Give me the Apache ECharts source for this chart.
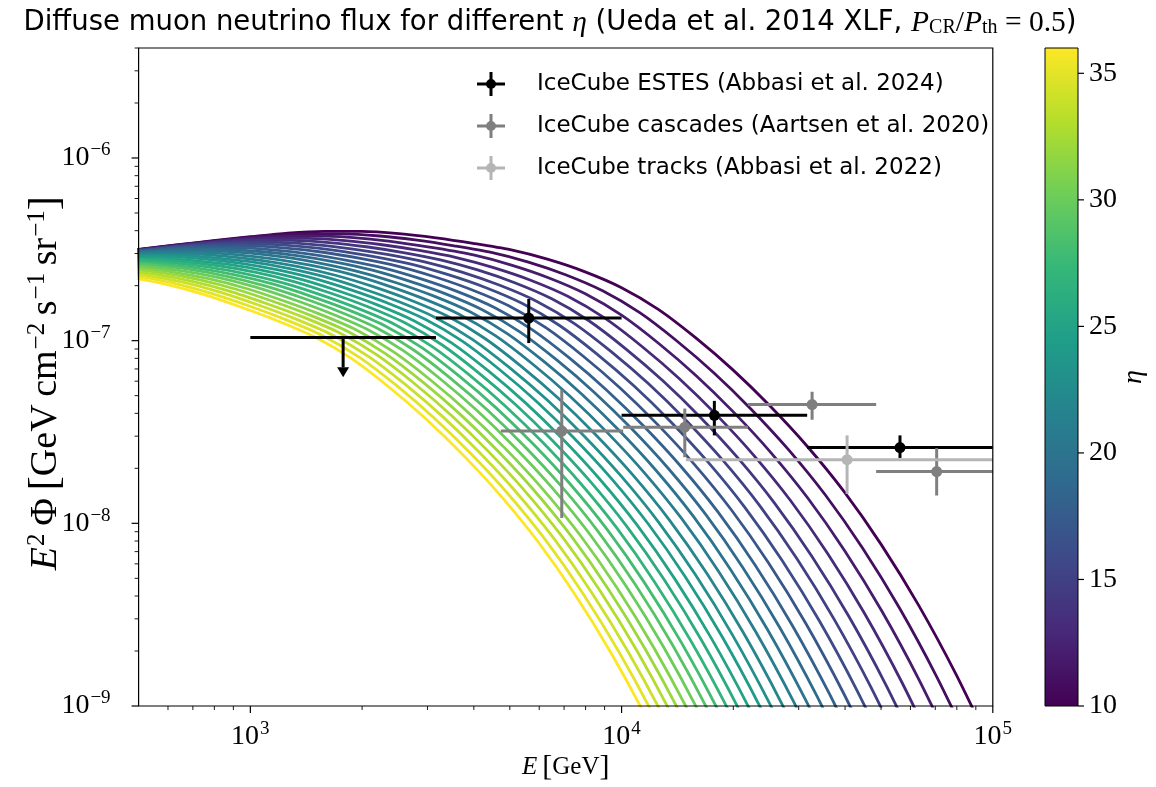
<!DOCTYPE html>
<html>
<head>
<meta charset="utf-8">
<script src="https://cdn.jsdelivr.net/npm/echarts@6/dist/echarts.min.js"></script>
<style>
  html, body { margin: 0; padding: 0; background: #ffffff; }
  #chart { width: 1156px; height: 787px; }
</style>
</head>
<body>
<div id="chart"></div>
<script>
// ---------------------------------------------------------------------------
// Model curves: diffuse muon-neutrino flux for eta = 10 ... 36.
// Each row holds log10(E / GeV) and log10(E^2 Phi / GeV cm^-2 s^-1 sr^-1).
// ---------------------------------------------------------------------------
const etaValues = [10, 11, 12, 13, 14, 15, 16, 17, 18, 19, 20, 21, 22, 23, 24, 25, 26, 27, 28, 29, 30, 31, 32, 33, 34, 35, 36];

const curveLogE = [
  [2.699, 2.8, 2.9, 3.0, 3.1, 3.2, 3.3, 3.4, 3.5, 3.6, 3.7, 3.8, 3.9, 4.0, 4.1, 4.2, 4.3, 4.4, 4.5, 4.6, 4.7, 4.8, 4.9, 5.0],
  [2.649, 2.749, 2.849, 2.949, 3.049, 3.149, 3.249, 3.349, 3.449, 3.549, 3.649, 3.749, 3.849, 3.949, 4.049, 4.149, 4.249, 4.349, 4.449, 4.549, 4.649, 4.749, 4.849, 4.949],
  [2.601, 2.701, 2.801, 2.901, 3.001, 3.101, 3.201, 3.301, 3.401, 3.501, 3.601, 3.701, 3.801, 3.901, 4.001, 4.101, 4.201, 4.301, 4.401, 4.501, 4.601, 4.701, 4.801, 4.901],
  [2.655, 2.755, 2.855, 2.955, 3.055, 3.155, 3.255, 3.355, 3.455, 3.555, 3.655, 3.755, 3.855, 3.955, 4.055, 4.155, 4.255, 4.355, 4.455, 4.555, 4.655, 4.755, 4.855],
  [2.612, 2.712, 2.812, 2.912, 3.012, 3.112, 3.212, 3.312, 3.412, 3.512, 3.612, 3.712, 3.812, 3.912, 4.012, 4.112, 4.212, 4.312, 4.412, 4.512, 4.612, 4.712, 4.812],
  [2.672, 2.772, 2.872, 2.972, 3.072, 3.172, 3.272, 3.372, 3.472, 3.572, 3.672, 3.772, 3.872, 3.972, 4.072, 4.172, 4.272, 4.372, 4.472, 4.572, 4.672, 4.772],
  [2.633, 2.733, 2.833, 2.933, 3.033, 3.133, 3.233, 3.333, 3.433, 3.533, 3.633, 3.733, 3.833, 3.933, 4.033, 4.133, 4.233, 4.333, 4.433, 4.533, 4.633, 4.733],
  [2.696, 2.796, 2.896, 2.996, 3.096, 3.196, 3.296, 3.396, 3.496, 3.596, 3.696, 3.796, 3.896, 3.996, 4.096, 4.196, 4.296, 4.396, 4.496, 4.596, 4.696],
  [2.660, 2.760, 2.860, 2.960, 3.060, 3.160, 3.260, 3.360, 3.460, 3.560, 3.660, 3.760, 3.860, 3.960, 4.060, 4.160, 4.260, 4.360, 4.460, 4.560, 4.660],
  [2.626, 2.726, 2.826, 2.926, 3.026, 3.126, 3.226, 3.326, 3.426, 3.526, 3.626, 3.726, 3.826, 3.926, 4.026, 4.126, 4.226, 4.326, 4.426, 4.526, 4.626],
  [2.693, 2.793, 2.893, 2.993, 3.093, 3.193, 3.293, 3.393, 3.493, 3.593, 3.693, 3.793, 3.893, 3.993, 4.093, 4.193, 4.293, 4.393, 4.493, 4.593],
  [2.661, 2.761, 2.861, 2.961, 3.061, 3.161, 3.261, 3.361, 3.461, 3.561, 3.661, 3.761, 3.861, 3.961, 4.061, 4.161, 4.261, 4.361, 4.461, 4.561],
  [2.629, 2.729, 2.829, 2.929, 3.029, 3.129, 3.229, 3.329, 3.429, 3.529, 3.629, 3.729, 3.829, 3.929, 4.029, 4.129, 4.229, 4.329, 4.429, 4.529],
  [2.699, 2.799, 2.899, 2.999, 3.099, 3.199, 3.299, 3.399, 3.499, 3.599, 3.699, 3.799, 3.899, 3.999, 4.099, 4.199, 4.299, 4.399, 4.499],
  [2.671, 2.771, 2.871, 2.971, 3.071, 3.171, 3.271, 3.371, 3.471, 3.571, 3.671, 3.771, 3.871, 3.971, 4.071, 4.171, 4.271, 4.371, 4.471],
  [2.642, 2.742, 2.842, 2.942, 3.042, 3.142, 3.242, 3.342, 3.442, 3.542, 3.642, 3.742, 3.842, 3.942, 4.042, 4.142, 4.242, 4.342, 4.442],
  [2.615, 2.715, 2.815, 2.915, 3.015, 3.115, 3.215, 3.315, 3.415, 3.515, 3.615, 3.715, 3.815, 3.915, 4.015, 4.115, 4.215, 4.315, 4.415],
  [2.688, 2.788, 2.888, 2.988, 3.088, 3.188, 3.288, 3.388, 3.488, 3.588, 3.688, 3.788, 3.888, 3.988, 4.088, 4.188, 4.288, 4.388],
  [2.662, 2.762, 2.862, 2.962, 3.062, 3.162, 3.262, 3.362, 3.462, 3.562, 3.662, 3.762, 3.862, 3.962, 4.062, 4.162, 4.262, 4.362],
  [2.637, 2.737, 2.837, 2.937, 3.037, 3.137, 3.237, 3.337, 3.437, 3.537, 3.637, 3.737, 3.837, 3.937, 4.037, 4.137, 4.237, 4.337],
  [2.612, 2.712, 2.812, 2.912, 3.012, 3.112, 3.212, 3.312, 3.412, 3.512, 3.612, 3.712, 3.812, 3.912, 4.012, 4.112, 4.212, 4.312],
  [2.687, 2.787, 2.887, 2.987, 3.087, 3.187, 3.287, 3.387, 3.487, 3.587, 3.687, 3.787, 3.887, 3.987, 4.087, 4.187, 4.287],
  [2.664, 2.764, 2.864, 2.964, 3.064, 3.164, 3.264, 3.364, 3.464, 3.564, 3.664, 3.764, 3.864, 3.964, 4.064, 4.164, 4.264],
  [2.641, 2.741, 2.841, 2.941, 3.041, 3.141, 3.241, 3.341, 3.441, 3.541, 3.641, 3.741, 3.841, 3.941, 4.041, 4.141, 4.241],
  [2.618, 2.718, 2.818, 2.918, 3.018, 3.118, 3.218, 3.318, 3.418, 3.518, 3.618, 3.718, 3.818, 3.918, 4.018, 4.118, 4.218],
  [2.695, 2.795, 2.895, 2.995, 3.095, 3.195, 3.295, 3.395, 3.495, 3.595, 3.695, 3.795, 3.895, 3.995, 4.095, 4.195],
  [2.674, 2.774, 2.874, 2.974, 3.074, 3.174, 3.274, 3.374, 3.474, 3.574, 3.674, 3.774, 3.874, 3.974, 4.074, 4.174]
];

const curveLogF = [
  [-6.500, -6.476, -6.453, -6.431, -6.411, -6.402, -6.402, -6.414, -6.437, -6.467, -6.502, -6.554, -6.622, -6.710, -6.830, -6.985, -7.160, -7.358, -7.578, -7.828, -8.118, -8.448, -8.823, -9.243],
  [-6.513, -6.489, -6.466, -6.444, -6.424, -6.415, -6.415, -6.427, -6.450, -6.481, -6.517, -6.570, -6.639, -6.727, -6.847, -7.002, -7.177, -7.375, -7.595, -7.845, -8.135, -8.465, -8.840, -9.260],
  [-6.526, -6.502, -6.479, -6.457, -6.437, -6.428, -6.428, -6.440, -6.463, -6.494, -6.531, -6.585, -6.654, -6.742, -6.862, -7.017, -7.192, -7.390, -7.610, -7.860, -8.150, -8.480, -8.855, -9.275],
  [-6.514, -6.491, -6.469, -6.449, -6.440, -6.440, -6.452, -6.475, -6.506, -6.545, -6.600, -6.669, -6.757, -6.877, -7.032, -7.207, -7.405, -7.625, -7.875, -8.165, -8.495, -8.870, -9.290],
  [-6.525, -6.502, -6.480, -6.460, -6.451, -6.451, -6.463, -6.486, -6.518, -6.558, -6.613, -6.683, -6.771, -6.891, -7.046, -7.221, -7.419, -7.639, -7.889, -8.179, -8.509, -8.884, -9.304],
  [-6.513, -6.491, -6.471, -6.462, -6.462, -6.474, -6.497, -6.529, -6.570, -6.626, -6.697, -6.785, -6.905, -7.060, -7.235, -7.433, -7.653, -7.903, -8.193, -8.523, -8.898, -9.318],
  [-6.523, -6.501, -6.481, -6.472, -6.472, -6.484, -6.507, -6.540, -6.581, -6.639, -6.709, -6.797, -6.917, -7.072, -7.247, -7.445, -7.665, -7.915, -8.205, -8.535, -8.910, -9.330],
  [-6.510, -6.490, -6.481, -6.481, -6.493, -6.516, -6.550, -6.592, -6.650, -6.721, -6.809, -6.929, -7.084, -7.259, -7.457, -7.677, -7.927, -8.217, -8.547, -8.922, -9.342],
  [-6.520, -6.500, -6.491, -6.491, -6.503, -6.526, -6.560, -6.603, -6.662, -6.733, -6.821, -6.941, -7.096, -7.271, -7.469, -7.689, -7.939, -8.229, -8.559, -8.934, -9.354],
  [-6.529, -6.509, -6.500, -6.500, -6.512, -6.535, -6.569, -6.613, -6.673, -6.744, -6.832, -6.952, -7.107, -7.282, -7.480, -7.700, -7.950, -8.240, -8.570, -8.945, -9.365],
  [-6.517, -6.508, -6.508, -6.520, -6.543, -6.578, -6.623, -6.683, -6.755, -6.843, -6.963, -7.118, -7.293, -7.491, -7.711, -7.961, -8.251, -8.581, -8.956, -9.376],
  [-6.526, -6.517, -6.517, -6.529, -6.552, -6.587, -6.632, -6.693, -6.766, -6.854, -6.974, -7.129, -7.304, -7.502, -7.722, -7.972, -8.262, -8.592, -8.967, -9.387],
  [-6.534, -6.525, -6.525, -6.537, -6.560, -6.595, -6.642, -6.703, -6.776, -6.864, -6.984, -7.139, -7.314, -7.512, -7.732, -7.982, -8.272, -8.602, -8.977, -9.397],
  [-6.533, -6.533, -6.545, -6.568, -6.603, -6.650, -6.713, -6.786, -6.874, -6.994, -7.149, -7.324, -7.522, -7.742, -7.992, -8.282, -8.612, -8.987, -9.407],
  [-6.540, -6.540, -6.552, -6.575, -6.611, -6.659, -6.722, -6.795, -6.883, -7.003, -7.158, -7.333, -7.531, -7.751, -8.001, -8.291, -8.621, -8.996, -9.416],
  [-6.548, -6.548, -6.560, -6.583, -6.619, -6.667, -6.731, -6.804, -6.892, -7.012, -7.167, -7.342, -7.540, -7.760, -8.010, -8.300, -8.630, -9.005, -9.425],
  [-6.555, -6.555, -6.567, -6.590, -6.626, -6.675, -6.739, -6.813, -6.901, -7.021, -7.176, -7.351, -7.549, -7.769, -8.019, -8.309, -8.639, -9.014, -9.434],
  [-6.562, -6.574, -6.597, -6.634, -6.684, -6.748, -6.822, -6.910, -7.030, -7.185, -7.360, -7.558, -7.778, -8.028, -8.318, -8.648, -9.023, -9.443],
  [-6.569, -6.581, -6.604, -6.641, -6.691, -6.756, -6.830, -6.918, -7.038, -7.193, -7.368, -7.566, -7.786, -8.036, -8.326, -8.656, -9.031, -9.451],
  [-6.575, -6.587, -6.610, -6.648, -6.699, -6.764, -6.839, -6.927, -7.047, -7.202, -7.377, -7.575, -7.795, -8.045, -8.335, -8.665, -9.040, -9.460],
  [-6.582, -6.594, -6.617, -6.654, -6.706, -6.772, -6.847, -6.935, -7.055, -7.210, -7.385, -7.583, -7.803, -8.053, -8.343, -8.673, -9.048, -9.468],
  [-6.600, -6.623, -6.661, -6.713, -6.780, -6.855, -6.943, -7.063, -7.218, -7.393, -7.591, -7.811, -8.061, -8.351, -8.681, -9.056, -9.476],
  [-6.606, -6.629, -6.667, -6.720, -6.787, -6.863, -6.951, -7.071, -7.226, -7.401, -7.599, -7.819, -8.069, -8.359, -8.689, -9.064, -9.484],
  [-6.613, -6.636, -6.674, -6.727, -6.795, -6.870, -6.958, -7.078, -7.233, -7.408, -7.606, -7.826, -8.076, -8.366, -8.696, -9.071, -9.491],
  [-6.619, -6.642, -6.680, -6.734, -6.802, -6.878, -6.966, -7.086, -7.241, -7.416, -7.614, -7.834, -8.084, -8.374, -8.704, -9.079, -9.499],
  [-6.647, -6.686, -6.741, -6.809, -6.885, -6.973, -7.093, -7.248, -7.423, -7.621, -7.841, -8.091, -8.381, -8.711, -9.086, -9.506],
  [-6.653, -6.692, -6.747, -6.816, -6.892, -6.980, -7.100, -7.255, -7.430, -7.628, -7.848, -8.098, -8.388, -8.718, -9.093, -9.513]
];

// ---------------------------------------------------------------------------
// IceCube measurements (E in GeV, E^2 Phi in GeV cm^-2 s^-1 sr^-1)
// ---------------------------------------------------------------------------
const estesLabel = 'IceCube ESTES (Abbasi et al. 2024)';
const estesE         = [1778, 5623, 17780, 56230];
const estesELow      = [1000, 3162, 10000, 31620];
const estesEHigh     = [3162, 10000, 31620, 177800];
const estesFlux      = [1.04e-7, 1.33e-7, 3.9e-8, 2.6e-8];
const estesFluxLow   = [6.3e-8, 9.7e-8, 3.03e-8, 2.28e-8];   // arrow tip for the upper limit
const estesFluxHigh  = [1.04e-7, 1.69e-7, 4.68e-8, 3.03e-8];
const estesUpperLim  = [1, 0, 0, 0];

const cascLabel = 'IceCube cascades (Aartsen et al. 2020)';
const cascE        = [6900, 14800, 32600, 70600];
const cascELow     = [4730, 10100, 21900, 48500];
const cascEHigh    = [10100, 21900, 48500, 150000];
const cascFlux     = [3.2e-8, 3.36e-8, 4.47e-8, 1.92e-8];
const cascFluxLow  = [1.07e-8, 2.3e-8, 3.69e-8, 1.42e-8];
const cascFluxHigh = [5.37e-8, 4.25e-8, 5.25e-8, 2.58e-8];

const trackLabel = 'IceCube tracks (Abbasi et al. 2022)';
const trackE        = [40500];
const trackELow     = [14900];
const trackEHigh    = [5000000];
const trackFlux     = [2.23e-8];
const trackFluxLow  = [1.45e-8];
const trackFluxHigh = [3.03e-8];

// Axis ranges and tick positions
const eMin = 500, eMax = 1e5;
const fMin = 1e-9, fMax = 4e-6;
const etaMin = 10, etaMax = 36;
const xMajorTicks = [1e3, 1e4, 1e5];
const xMinorTicks = [600, 700, 800, 900, 2000, 3000, 4000, 5000, 6000, 7000, 8000, 9000,
                     20000, 30000, 40000, 50000, 60000, 70000, 80000, 90000];
const yMajorTicks = [1e-9, 1e-8, 1e-7, 1e-6];
const yMinorTicks = [2e-9, 3e-9, 4e-9, 5e-9, 6e-9, 7e-9, 8e-9, 9e-9,
                     2e-8, 3e-8, 4e-8, 5e-8, 6e-8, 7e-8, 8e-8, 9e-8,
                     2e-7, 3e-7, 4e-7, 5e-7, 6e-7, 7e-7, 8e-7, 9e-7,
                     2e-6, 3e-6, 4e-6];
const colorbarTicks = [10, 15, 20, 25, 30, 35];

// ---------------------------------------------------------------------------
// Styling
// ---------------------------------------------------------------------------
const SERIF = '"Liberation Serif", "DejaVu Serif", serif';
const SANS = '"DejaVu Sans", "Liberation Sans", sans-serif';
const VIRIDIS = ['#440154', '#482878', '#3e4989', '#31688e', '#26828e',
                 '#1f9e89', '#35b779', '#6ece58', '#b5de2b', '#fde725'];
const etaColor = eta => echarts.color.lerp((eta - etaMin) / (etaMax - etaMin), VIRIDIS);
const fromLog = v => Math.pow(10, v);

const powRich = {
  b: { fontFamily: SERIF, fontSize: 28, color: '#000' },
  e: { fontFamily: SERIF, fontSize: 19, color: '#000', padding: [0, 0, 15, 1] }
};
function powerLabel(v) {
  const p = Math.round(Math.log10(v));
  return '{b|10}{e|' + (p < 0 ? '\u2212' + (-p) : p) + '}';
}

// Legend glyph: horizontal + vertical error bar with a dot (plus blank space before the text)
const ERRBAR_ICON = 'path://M0,10.5H28V13.5H0Z M12.5,0H15.5V24H12.5Z M9,12A5,5,0,1,1,19,12A5,5,0,1,1,9,12Z M55,12L55,12';

// ---------------------------------------------------------------------------
// Render helpers
// ---------------------------------------------------------------------------
function errorBarItem(params, api) {
  const cs = params.coordSys;
  const clampX = x => Math.max(cs.x, Math.min(cs.x + cs.width, x));
  const e = api.value(0), f = api.value(1);
  const c = api.coord([e, f]);
  const l = api.coord([api.value(2), f]);
  const r = api.coord([api.value(3), f]);
  const color = api.visual('color');
  const lw = 3;
  const children = [{
    type: 'line',
    shape: { x1: clampX(l[0]), y1: c[1], x2: clampX(r[0]), y2: c[1] },
    style: { stroke: color, lineWidth: lw }
  }];
  if (api.value(6) === 1) {
    const tip = api.coord([e, api.value(4)]);
    const head = 10;
    children.push({
      type: 'line',
      shape: { x1: c[0], y1: c[1], x2: c[0], y2: tip[1] - head },
      style: { stroke: color, lineWidth: lw }
    });
    children.push({
      type: 'polygon',
      shape: { points: [[c[0] - 6, tip[1] - head], [c[0] + 6, tip[1] - head], [c[0], tip[1]]] },
      style: { fill: color }
    });
  } else {
    const lo = api.coord([e, api.value(4)]);
    const hi = api.coord([e, api.value(5)]);
    children.push({
      type: 'line',
      shape: { x1: c[0], y1: lo[1], x2: c[0], y2: hi[1] },
      style: { stroke: color, lineWidth: lw }
    });
    children.push({
      type: 'circle',
      shape: { cx: c[0], cy: c[1], r: 5.5 },
      style: { fill: color }
    });
  }
  return { type: 'group', children };
}

function xTickItem(params, api) {
  const cs = params.coordSys;
  const p = api.coord([api.value(0), fMin]);
  const y0 = cs.y + cs.height;
  return { type: 'line', shape: { x1: p[0], y1: y0, x2: p[0], y2: y0 + api.value(2) },
           style: { stroke: '#000', lineWidth: api.value(3) } };
}
function yTickItem(params, api) {
  const cs = params.coordSys;
  const p = api.coord([eMin, api.value(1)]);
  return { type: 'line', shape: { x1: cs.x - api.value(2), y1: p[1], x2: cs.x, y2: p[1] },
           style: { stroke: '#000', lineWidth: api.value(3) } };
}
function cbTickItem(params, api) {
  const p = api.coord([1, api.value(1)]);
  return { type: 'line', shape: { x1: p[0], y1: p[1], x2: p[0] + api.value(2), y2: p[1] },
           style: { stroke: '#000', lineWidth: api.value(3) } };
}
function colorbarItem(params, api) {
  const bl = api.coord([0, etaMin]);
  const tr = api.coord([1, etaMax]);
  const stops = VIRIDIS.map((c, i) => ({ offset: i / (VIRIDIS.length - 1), color: c }));
  return {
    type: 'rect',
    shape: { x: bl[0], y: tr[1], width: tr[0] - bl[0], height: bl[1] - tr[1] },
    style: { fill: new echarts.graphic.LinearGradient(0, 1, 0, 0, stops), stroke: '#000', lineWidth: 1 }
  };
}

// ---------------------------------------------------------------------------
// Series
// ---------------------------------------------------------------------------
const curveSeries = etaValues.map((eta, i) => ({
  type: 'line',
  name: 'eta = ' + eta,
  xAxisIndex: 0, yAxisIndex: 0,
  data: curveLogE[i].map((le, j) => [fromLog(le), fromLog(curveLogF[i][j])]),
  showSymbol: false, symbol: 'none',
  smooth: 0.25,
  silent: true, clip: true, z: 2,
  lineStyle: { width: 2.8, color: etaColor(eta), cap: 'butt' }
}));

function errSeries(name, color, z, E, ELo, EHi, F, FLo, FHi, UL) {
  return {
    type: 'custom', name, xAxisIndex: 0, yAxisIndex: 0, z, clip: false, silent: true,
    itemStyle: { color },
    renderItem: errorBarItem,
    data: E.map((e, i) => [e, F[i], ELo[i], EHi[i], FLo[i], FHi[i], UL ? UL[i] : 0])
  };
}

const tickSeries = [
  { type: 'custom', xAxisIndex: 0, yAxisIndex: 0, clip: false, silent: true, z: 6, renderItem: xTickItem,
    data: xMajorTicks.map(v => [v, fMin, 7, 1.2]).concat(xMinorTicks.map(v => [v, fMin, 4, 0.9])) },
  { type: 'custom', xAxisIndex: 0, yAxisIndex: 0, clip: false, silent: true, z: 6, renderItem: yTickItem,
    data: yMajorTicks.map(v => [eMin, v, 7, 1.2]).concat(yMinorTicks.map(v => [eMin, v, 4, 0.9])) },
  { type: 'custom', xAxisIndex: 1, yAxisIndex: 1, clip: false, silent: true, z: 6, renderItem: cbTickItem,
    data: colorbarTicks.map(v => [1, v, 6, 1.2]) },
  { type: 'custom', xAxisIndex: 1, yAxisIndex: 1, clip: false, silent: true, z: 2, renderItem: colorbarItem,
    data: [[0, etaMin]] }
];

const option = {
  backgroundColor: '#ffffff',
  animation: false,
  title: {
    left: 545, top: 3, textAlign: 'center',
    text: 'Diffuse muon neutrino flux for different {m|\u03b7} (Ueda et al. 2014 XLF, {m|P}{sub|CR}{r|/}{m|P}{sub|th}{r| = 0.5})',
    textStyle: {
      fontFamily: SANS, fontSize: 27.5, fontWeight: 'normal', color: '#000',
      rich: {
        m: { fontFamily: SERIF, fontStyle: 'italic', fontSize: 29.5, color: '#000' },
        r: { fontFamily: SERIF, fontSize: 29.5, color: '#000' },
        sub: { fontFamily: SERIF, fontSize: 20, color: '#000', padding: [10, 0, 0, 0] }
      }
    }
  },
  legend: {
    orient: 'vertical', left: 472, top: 67, itemGap: 18,
    itemWidth: 55, itemHeight: 24, selectedMode: false,
    textStyle: { fontFamily: SANS, fontSize: 23, color: '#000' },
    data: [
      { name: estesLabel, icon: ERRBAR_ICON },
      { name: cascLabel, icon: ERRBAR_ICON },
      { name: trackLabel, icon: ERRBAR_ICON }
    ]
  },
  grid: [
    { left: 138.6, top: 48, width: 854.2, height: 658, outerBoundsMode: 'none', containLabel: false,
      show: true, borderColor: '#000', borderWidth: 1.2, backgroundColor: 'transparent', z: 10 },
    { left: 1045, top: 48, width: 33, height: 658, outerBoundsMode: 'none', containLabel: false }
  ],
  xAxis: [
    {
      type: 'log', logBase: 10, gridIndex: 0, min: eMin, max: eMax,
      axisLine: { show: false }, axisTick: { show: false }, splitLine: { show: false },
      axisLabel: { showMinLabel: false, margin: 14, formatter: powerLabel, rich: powRich },
      name: '{i|E}{r|\u2009}{b|[}{r|GeV}{b|]}', nameLocation: 'middle', nameGap: 46,
      nameMoveOverlap: false,
      nameTextStyle: {
        rich: {
          i: { fontFamily: SERIF, fontStyle: 'italic', fontSize: 25, color: '#000' },
          r: { fontFamily: SERIF, fontSize: 25, color: '#000' },
          b: { fontFamily: SERIF, fontSize: 30, color: '#000' }
        }
      }
    },
    { type: 'value', gridIndex: 1, min: 0, max: 1, show: false }
  ],
  yAxis: [
    {
      type: 'log', logBase: 10, gridIndex: 0, min: fMin, max: fMax,
      axisLine: { show: false }, axisTick: { show: false }, splitLine: { show: false },
      axisLabel: { showMaxLabel: false, margin: 28, formatter: powerLabel, rich: powRich },
      name: '{i|E}{s|2}{r|\u2009\u03a6\u2009}{b|[}{r|GeV\u2009cm}{s|\u22122}{r|\u2009s}{s|\u22121}{r|\u2009sr}{s|\u22121}{b|]}',
      nameLocation: 'middle', nameGap: 71, nameRotate: 90,
      nameMoveOverlap: false,
      nameTextStyle: {
        padding: [0, 12, 0, 0],
        rich: {
          i: { fontFamily: SERIF, fontStyle: 'italic', fontSize: 38, color: '#000' },
          r: { fontFamily: SERIF, fontSize: 38, color: '#000' },
          b: { fontFamily: SERIF, fontSize: 43, color: '#000' },
          s: { fontFamily: SERIF, fontSize: 25, color: '#000', padding: [0, 0, 17, 1] }
        }
      }
    },
    {
      type: 'value', gridIndex: 1, min: etaMin, max: etaMax, interval: 5, position: 'right',
      axisLine: { show: false }, axisTick: { show: false }, splitLine: { show: false },
      axisLabel: { showMaxLabel: false, margin: 11, fontFamily: SERIF, fontSize: 28, color: '#000' },
      name: '\u03b7', nameLocation: 'middle', nameGap: 42, nameRotate: 90,
      nameMoveOverlap: false,
      nameTextStyle: { fontFamily: SERIF, fontStyle: 'italic', fontSize: 28, color: '#000' }
    }
  ],
  series: curveSeries.concat([
    errSeries(estesLabel, '#000000', 5, estesE, estesELow, estesEHigh, estesFlux, estesFluxLow, estesFluxHigh, estesUpperLim),
    errSeries(cascLabel, '#7f7f7f', 6, cascE, cascELow, cascEHigh, cascFlux, cascFluxLow, cascFluxHigh, null),
    errSeries(trackLabel, '#b5b5b5', 7, trackE, trackELow, trackEHigh, trackFlux, trackFluxLow, trackFluxHigh, null)
  ]).concat(tickSeries)
};

const chart = echarts.init(document.getElementById('chart'));
chart.setOption(option);
</script>
</body>
</html>
